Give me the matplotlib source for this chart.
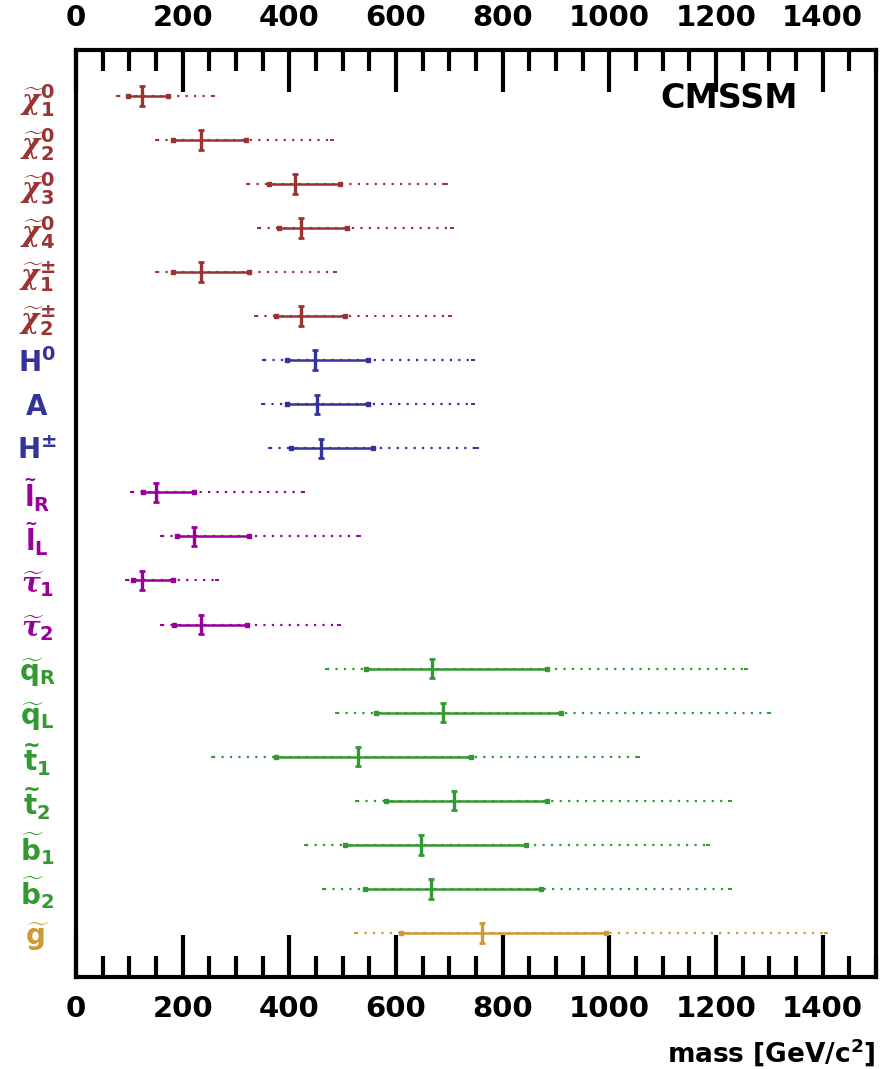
import numpy as np
import matplotlib
matplotlib.use('Agg')
import matplotlib.pyplot as plt
from matplotlib.ticker import MultipleLocator

plt.rcParams['font.family'] = ['DejaVu Sans']
plt.rcParams['font.weight'] = 'bold'
plt.rcParams['mathtext.fontset'] = 'custom'
plt.rcParams['mathtext.rm'] = 'DejaVu Sans:bold'
plt.rcParams['mathtext.it'] = 'DejaVu Serif:italic'
plt.rcParams['mathtext.bf'] = 'DejaVu Sans:bold'

# particle labels (top to bottom)
labels = [r'$\widetilde{\chi}^{0}_{1}$', r'$\widetilde{\chi}^{0}_{2}$',
          r'$\widetilde{\chi}^{0}_{3}$', r'$\widetilde{\chi}^{0}_{4}$',
          r'$\widetilde{\chi}^{\pm}_{1}$', r'$\widetilde{\chi}^{\pm}_{2}$',
          r'$\mathrm{H}^{0}$', r'$\mathrm{A}$', r'$\mathrm{H}^{\pm}$',
          r'$\widetilde{\mathrm{l}}_{\mathrm{R}}$', r'$\widetilde{\mathrm{l}}_{\mathrm{L}}$',
          r'$\widetilde{\tau}_{1}$', r'$\widetilde{\tau}_{2}$',
          r'$\widetilde{\mathrm{q}}_{\mathrm{R}}$', r'$\widetilde{\mathrm{q}}_{\mathrm{L}}$',
          r'$\widetilde{\mathrm{t}}_{1}$', r'$\widetilde{\mathrm{t}}_{2}$',
          r'$\widetilde{\mathrm{b}}_{1}$', r'$\widetilde{\mathrm{b}}_{2}$',
          r'$\widetilde{\mathrm{g}}$']
groups = ['chi'] * 6 + ['higgs'] * 3 + ['slep'] * 4 + ['squark'] * 6 + ['gluino']

# best fit, 68% range, 95% range [GeV]
central = [123, 234, 411, 422, 234, 422, 449, 452, 460, 150, 221, 123, 234,
           667, 688, 529, 708, 647, 665, 761]
lo68 = [97, 182, 361, 380, 182, 375, 396, 396, 404, 125, 189, 107, 183,
        544, 563, 375, 581, 505, 542, 609]
hi68 = [172, 319, 495, 508, 324, 505, 548, 548, 557, 222, 325, 181, 321,
        884, 910, 740, 884, 843, 871, 994]
lo95 = [79, 151, 322, 344, 151, 338, 353, 350, 363, 105, 162, 95, 162,
        471, 490, 256, 527, 432, 465, 525]
hi95 = [256, 480, 693, 705, 486, 701, 744, 744, 751, 426, 531, 264, 493,
        1256, 1299, 1054, 1226, 1185, 1226, 1406]

colors = {'chi': '#9b3333', 'higgs': '#333399', 'slep': '#990099',
          'squark': '#339933', 'gluino': '#cc9933'}

figure = plt.figure(figsize=(8.84, 10.69), dpi=100)
axes = figure.add_axes([76 / 884, 92 / 1069, 800 / 884, 927 / 1069])

rows = np.arange(1, len(labels) + 1)
for row, grp, c, l1, h1, l2, h2 in zip(rows, groups, central, lo68, hi68, lo95, hi95):
    color = colors[grp]
    axes.plot([l2, h2], [row, row], color=color, lw=1.6, ls=(0, (1, 2.8)))
    axes.plot([l2, h2], [row, row], ls='none', marker='_', ms=3, mew=1.4, color=color)
    axes.plot([l1, h1], [row, row], color=color, lw=1.8, marker='s', ms=3)
    axes.errorbar(c, row, yerr=0.22, fmt='none', ecolor=color, elinewidth=2.4,
                  capsize=2.5, capthick=2)

axes.set_xlim(0, 1500)
axes.set_ylim(21.0, -0.04)
axes.xaxis.set_major_locator(MultipleLocator(200))
axes.xaxis.set_minor_locator(MultipleLocator(50))
axes.tick_params(axis='x', which='major', direction='in', length=30, width=3,
                 top=True, labeltop=True, labelsize=21, pad=13)
axes.tick_params(axis='x', which='minor', direction='in', length=15, width=3, top=True)
axes.set_xticks(np.arange(0, 1401, 200))
axes.set_yticks(rows)
axes.set_yticklabels(labels, fontsize=20)
axes.tick_params(axis='y', length=0, pad=28)
for tick, grp in zip(axes.get_yticklabels(), groups):
    tick.set_color(colors[grp])
    tick.set_ha('center')
for spine in axes.spines.values():
    spine.set_linewidth(3)

axes.text(0.902, 0.948, 'CMSSM', transform=axes.transAxes, fontsize=24,
          fontweight='bold', ha='right', va='center')
figure.text(876 / 884, 1 - 1053 / 1069, r'mass [GeV/c$^{2}$]', fontsize=19,
            fontweight='bold', ha='right', va='center')

figure.savefig('out.png', dpi=100)
